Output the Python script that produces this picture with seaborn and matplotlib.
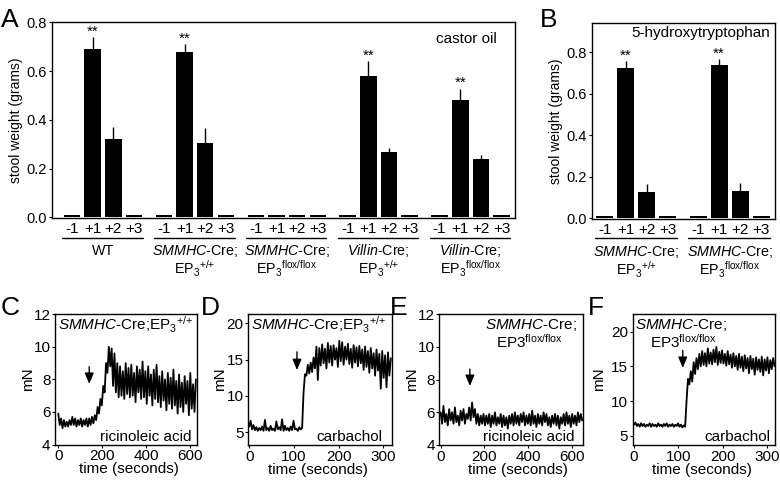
import numpy as np
import pandas as pd
import matplotlib
matplotlib.use("Agg")
import matplotlib.pyplot as plt
import seaborn as sns

# ---------------- data ----------------
days = ["-1", "+1", "+2", "+3"]

# Panel A: castor oil, stool weight (grams)
a_wt = [0.01, 0.69, 0.32, 0.01]
a_wt_err = [0, 0.05, 0.05, 0]
a_smmhc_wt = [0.01, 0.68, 0.305, 0.01]
a_smmhc_wt_err = [0, 0.03, 0.06, 0]
a_smmhc_flox = [0.009, 0.009, 0.009, 0.009]
a_smmhc_flox_err = [0, 0, 0, 0]
a_villin_wt = [0.01, 0.58, 0.268, 0.01]
a_villin_wt_err = [0, 0.06, 0.018, 0]
a_villin_flox = [0.01, 0.48, 0.238, 0.01]
a_villin_flox_err = [0, 0.048, 0.018, 0]
a_stars = [[False, True, False, False], [False, True, False, False],
           [False, False, False, False], [False, True, False, False],
           [False, True, False, False]]
a_line1 = ["WT", r"$\mathit{SMMHC}$-Cre;", r"$\mathit{SMMHC}$-Cre;",
           r"$\mathit{Villin}$-Cre;", r"$\mathit{Villin}$-Cre;"]
a_line2 = ["", r"EP$_3$$^{+/{+}}$", r"EP$_3$$^{\mathrm{flox/flox}}$",
           r"EP$_3$$^{+/{+}}$", r"EP$_3$$^{\mathrm{flox/flox}}$"]

# Panel B: 5-hydroxytryptophan
b_smmhc_wt = [0.012, 0.727, 0.128, 0.012]
b_smmhc_wt_err = [0, 0.032, 0.037, 0]
b_smmhc_flox = [0.012, 0.739, 0.131, 0.012]
b_smmhc_flox_err = [0, 0.03, 0.04, 0]
b_stars = [[False, True, False, False], [False, True, False, False]]
b_line1 = [r"$\mathit{SMMHC}$-Cre;", r"$\mathit{SMMHC}$-Cre;"]
b_line2 = [r"EP$_3$$^{+/{+}}$", r"EP$_3$$^{\mathrm{flox/flox}}$"]

# Panel C: SMMHC-Cre;EP3+/+, ricinoleic acid (mN)
c_t_end = 627
c_force = [5.9, 5.2, 5.6, 5.0, 5.5, 5.1, 5.4, 5.1, 5.5, 5.2,
           5.7, 5.2, 5.6, 5.1, 5.5, 5.2, 5.6, 5.1, 5.5, 5.2,
           5.6, 5.1, 5.6, 5.2, 5.7, 5.3, 5.8, 5.5, 6.3, 5.9,
           6.8, 6.4, 7.6, 7.2, 9.0, 8.4, 10.0, 8.8, 9.9, 7.6,
           9.6, 7.2, 9.0, 6.9, 8.8, 7.0, 8.5, 6.8, 9.0, 7.1,
           8.7, 6.9, 8.9, 7.0, 8.4, 6.6, 8.8, 7.2, 8.6, 6.8,
           9.1, 6.9, 8.5, 6.5, 8.8, 7.0, 8.3, 6.4, 8.6, 6.8,
           8.9, 6.6, 8.2, 6.3, 8.5, 6.7, 8.0, 6.1, 8.4, 6.5,
           8.1, 6.2, 8.6, 6.4, 7.9, 5.9, 8.3, 6.3, 7.8, 6.0,
           8.2, 6.5, 7.9, 5.8, 8.4, 6.2, 7.7, 6.0, 8.0]
c_arrow = (141, 8.78, 7.72)

# Panel D: SMMHC-Cre;EP3+/+, carbachol
d_t_end = 317
d_force = [5.8, 6.6, 5.4, 6.0, 5.3, 5.7, 5.2, 5.6, 5.3, 5.8,
           5.2, 6.7, 5.3, 5.6, 5.2, 5.9, 5.3, 5.5, 5.2, 6.5,
           5.4, 5.7, 5.3, 6.8, 5.2, 5.9, 5.3, 5.6, 5.2, 5.8,
           5.3, 6.6, 5.4, 5.5, 5.2, 5.7, 5.4, 5.6, 10.5, 13.0,
           12.8, 14.3, 13.1, 14.6, 13.3, 15.3, 13.8, 16.8, 12.2, 16.6,
           14.2, 17.1, 14.5, 16.5, 13.8, 17.3, 14.6, 16.9, 14.2, 17.0,
           15.0, 16.6, 14.0, 17.6, 14.8, 17.4, 14.3, 16.8, 15.0, 17.2,
           14.4, 16.5, 13.9, 17.0, 14.6, 16.7, 14.1, 16.9, 14.5, 16.4,
           13.6, 16.8, 14.0, 16.2, 13.2, 16.6, 13.8, 15.9, 12.8, 16.4,
           13.5, 15.8, 11.0, 16.2, 12.5, 15.6, 11.2, 16.0, 12.8, 15.2]
d_arrow = (107, 16.08, 13.56)

# Panel E: SMMHC-Cre;EP3flox/flox, ricinoleic acid
e_t_end = 648
e_force = [6.0, 5.3, 6.4, 5.4, 5.9, 5.2, 6.2, 5.5, 6.0, 5.3,
           6.3, 5.4, 5.8, 5.2, 6.1, 5.5, 6.2, 5.3, 5.9, 5.6,
           6.3, 5.5, 6.6, 5.7, 6.2, 5.3, 5.9, 5.2, 5.8, 5.3,
           5.9, 5.2, 5.8, 5.3, 5.9, 5.1, 5.8, 5.3, 6.0, 5.2,
           5.7, 5.3, 5.9, 5.1, 5.8, 5.2, 5.7, 5.0, 5.8, 5.3,
           5.9, 5.2, 6.0, 5.3, 5.8, 5.2, 5.9, 5.4, 6.0, 5.2,
           5.8, 5.3, 5.9, 5.2, 6.1, 5.3, 5.8, 5.1, 5.9, 5.3,
           5.8, 5.2, 6.0, 5.4, 5.9, 5.2, 5.7, 5.1, 5.8, 5.3,
           5.9, 5.2, 5.8, 5.0, 5.7, 5.3, 5.9, 5.2, 6.0, 5.3,
           5.8, 5.1, 5.9, 5.3, 5.8, 5.2, 6.0, 5.4, 5.9, 5.5]
e_arrow = (134, 8.65, 7.61)

# Panel F: SMMHC-Cre;EP3flox/flox, carbachol
f_t_end = 317
f_force = [6.6, 6.9, 6.4, 6.7, 6.3, 6.8, 6.4, 6.7, 6.3, 6.6,
           6.4, 6.8, 6.3, 6.7, 6.4, 6.6, 6.3, 6.8, 6.4, 6.6,
           6.3, 6.7, 6.4, 6.8, 6.3, 6.6, 6.4, 6.7, 6.3, 6.6,
           6.4, 6.8, 6.3, 6.6, 6.2, 6.5, 6.3, 10.0, 13.2, 12.4,
           14.3, 12.8, 15.6, 13.9, 16.2, 14.6, 16.8, 15.0, 17.2, 15.2,
           16.9, 15.0, 17.6, 15.4, 17.0, 15.3, 17.4, 15.6, 17.8, 15.2,
           17.1, 15.5, 17.3, 15.4, 16.8, 15.1, 17.2, 15.3, 16.7, 14.8,
           16.9, 15.0, 16.5, 14.5, 16.8, 14.8, 16.4, 14.3, 16.6, 14.7,
           16.2, 14.0, 16.5, 14.6, 16.1, 13.8, 16.3, 14.5, 16.0, 14.2,
           16.4, 13.7, 16.0, 14.4, 16.3, 14.0, 15.9, 14.6, 16.2, 15.0]
f_arrow = (110, 17.3, 14.77)

# ---------------- style ----------------
sns.set_theme(style="ticks")
plt.rcParams["font.family"] = ["Liberation Sans", "DejaVu Sans"]
plt.rcParams.update({
    "mathtext.fontset": "custom",
    "mathtext.rm": "Liberation Sans",
    "mathtext.it": "Liberation Sans:italic",
    "mathtext.bf": "Liberation Sans:bold",
    "axes.linewidth": 1.0,
    "axes.edgecolor": "black",
    "xtick.color": "black",
    "ytick.color": "black",
    "text.color": "black",
    "axes.labelcolor": "black",
})

W, H = 780, 482
fig = plt.figure(figsize=(W / 100, H / 100), dpi=100)


def px_axes(l, t, r, b):
    return fig.add_axes([l / W, 1 - b / H, (r - l) / W, (b - t) / H])


GROUP_STEP = 4.45
FS = 11
GFS = 10.3


def bar_panel(ax, groups, errs, stars, line1, line2, ylim, xlim, yticks,
              y_line, y_l1, y_l2):
    pos, val, err = [], [], []
    for g, (vals, es) in enumerate(zip(groups, errs)):
        for i in range(4):
            pos.append(g * GROUP_STEP + i)
            val.append(vals[i])
            err.append(es[i])
    df = pd.DataFrame({"pos": pos, "val": val})
    sns.barplot(data=df, x="pos", y="val", native_scale=True, color="black",
                saturation=1, width=0.8, errorbar=None, linewidth=0, ax=ax)
    pos = np.array(pos)
    val = np.array(val)
    err = np.array(err)
    m = err > 0
    ax.errorbar(pos[m], val[m], yerr=[np.zeros(m.sum()), err[m]], fmt="none",
                ecolor="black", elinewidth=1.0, capsize=0)
    k = 0
    for g in range(len(groups)):
        for i in range(4):
            if stars[g][i]:
                ax.text(pos[k], val[k] + err[k] + 0.006, "**", ha="center",
                        va="baseline", fontsize=FS)
            k += 1
    ax.set_xlim(*xlim)
    ax.set_ylim(*ylim)
    ax.set_xticks(pos)
    ax.set_xticklabels(days * len(groups))
    ax.set_yticks(yticks)
    ax.set_yticklabels([f"{v:.1f}" for v in yticks])
    ax.tick_params(axis="x", length=0, pad=2.5, labelsize=FS)
    ax.tick_params(axis="y", length=2.5, width=0.8, pad=1.2, labelsize=10.5)
    ax.set_xlabel("")
    ax.set_ylabel("stool weight (grams)", fontsize=10)
    tr = ax.get_xaxis_transform()
    for g in range(len(groups)):
        x0 = g * GROUP_STEP
        ax.plot([x0 - 0.47, x0 + 3.42], [y_line, y_line], transform=tr,
                clip_on=False, color="black", lw=1.0)
        cx = x0 + 1.5
        ax.text(cx, y_l1, line1[g], transform=tr, ha="center", va="baseline",
                fontsize=GFS)
        if line2[g]:
            ax.text(cx, y_l2, line2[g], transform=tr, ha="center",
                    va="baseline", fontsize=GFS)
    for s in ax.spines.values():
        s.set_visible(True)
        s.set_color("black")
        s.set_linewidth(1.0)


# Panel A
axA = px_axes(52, 22.3, 515, 218.3)
bar_panel(axA,
          [a_wt, a_smmhc_wt, a_smmhc_flox, a_villin_wt, a_villin_flox],
          [a_wt_err, a_smmhc_wt_err, a_smmhc_flox_err, a_villin_wt_err,
           a_villin_flox_err],
          a_stars, a_line1, a_line2, ylim=(-0.004, 0.8), xlim=(-0.97, 21.45),
          yticks=[0.0, 0.2, 0.4, 0.6, 0.8], y_line=-0.102, y_l1=-0.187,
          y_l2=-0.284)
axA.yaxis.set_label_coords(-0.062, 0.5)
axA.text(0.9605, 0.896, "castor oil", transform=axA.transAxes, ha="right",
         va="baseline", fontsize=FS)

# Panel B
axB = px_axes(591.7, 23.3, 775, 219.3)
bar_panel(axB, [b_smmhc_wt, b_smmhc_flox], [b_smmhc_wt_err, b_smmhc_flox_err],
          b_stars, b_line1, b_line2, ylim=(-0.004, 0.94), xlim=(-0.62, 8.11),
          yticks=[0.0, 0.2, 0.4, 0.6, 0.8], y_line=-0.097, y_l1=-0.187,
          y_l2=-0.286)
axB.yaxis.set_label_coords(-0.155, 0.5)
axB.text(0.973, 0.929, "5-hydroxytryptophan", transform=axB.transAxes,
         ha="right", va="baseline", fontsize=FS)


def trace_panel(ax, force, t_end, arrow, xlim, ylim, xticks, yticks,
                ylab_x, xlab_x):
    t = np.linspace(0, t_end, len(force))
    sns.lineplot(x=t, y=force, ax=ax, color="black", linewidth=1.3,
                 errorbar=None)
    ax.annotate("", xy=(arrow[0], arrow[2]), xytext=(arrow[0], arrow[1]),
                arrowprops=dict(arrowstyle="-|>,head_length=0.65,head_width=0.27",
                                color="black", lw=1.0, shrinkA=0, shrinkB=0,
                                mutation_scale=10))
    ax.set_xlim(*xlim)
    ax.set_ylim(*ylim)
    ax.set_xticks(xticks)
    ax.set_yticks(yticks)
    ax.tick_params(axis="both", length=2.5, width=0.8, pad=0.8, labelsize=FS)
    ax.set_xlabel("time (seconds)", fontsize=FS)
    ax.set_ylabel("mN", fontsize=FS)
    ax.yaxis.set_label_coords(ylab_x, 0.5)
    ax.xaxis.set_label_coords(xlab_x, -0.135)
    for s in ax.spines.values():
        s.set_visible(True)
        s.set_color("black")
        s.set_linewidth(1.0)


axC = px_axes(55, 314.3, 197, 444.5)
trace_panel(axC, c_force, c_t_end, c_arrow, (-15, 632), (4, 12),
            [0, 200, 400, 600], [4, 6, 8, 10, 12], -0.141, 0.52)
axC.text(0.021, 0.879, r"$\mathit{SMMHC}$-Cre;EP$_3$$^{+/{+}}$",
         transform=axC.transAxes, ha="left", va="baseline", fontsize=FS)
axC.text(0.963, 0.03, "ricinoleic acid", transform=axC.transAxes, ha="right",
         va="baseline", fontsize=FS)

axD = px_axes(248.3, 314.3, 391.7, 445)
trace_panel(axD, d_force, d_t_end, d_arrow, (-2, 319), (3.25, 21.25),
            [0, 100, 200, 300], [5, 10, 15, 20], -0.151, 0.483)
axD.text(0.019, 0.879, r"$\mathit{SMMHC}$-Cre;EP$_3$$^{+/{+}}$",
         transform=axD.transAxes, ha="left", va="baseline", fontsize=FS)
axD.text(0.932, 0.03, "carbachol", transform=axD.transAxes, ha="right",
         va="baseline", fontsize=FS)

axE = px_axes(439.3, 314.3, 583.3, 445)
trace_panel(axE, e_force, e_t_end, e_arrow, (-6, 653), (4, 12),
            [0, 200, 400, 600], [4, 6, 8, 10, 12], -0.139, 0.543)
axE.text(0.635, 0.885, r"$\mathit{SMMHC}$-Cre;", transform=axE.transAxes,
         ha="center", va="baseline", fontsize=FS)
axE.text(0.623, 0.745, r"EP3$^{\mathrm{flox/flox}}$", transform=axE.transAxes,
         ha="center", va="baseline", fontsize=FS)
axE.text(0.942, 0.03, "ricinoleic acid", transform=axE.transAxes, ha="right",
         va="baseline", fontsize=FS)

axF = px_axes(632.7, 314.3, 775, 445)
trace_panel(axF, f_force, f_t_end, f_arrow, (-3, 318), (3.67, 22.5),
            [0, 100, 200, 300], [5, 10, 15, 20], -0.188, 0.487)
axF.text(0.339, 0.885, r"$\mathit{SMMHC}$-Cre;", transform=axF.transAxes,
         ha="center", va="baseline", fontsize=FS)
axF.text(0.36, 0.745, r"EP3$^{\mathrm{flox/flox}}$", transform=axF.transAxes,
         ha="center", va="baseline", fontsize=FS)
axF.text(0.967, 0.03, "carbachol", transform=axF.transAxes, ha="right",
         va="baseline", fontsize=FS)

# panel letters
for letter, x, y in [("A", 1, 27), ("B", 540, 27), ("C", 1, 315),
                     ("D", 201, 315), ("E", 390, 315), ("F", 588, 315)]:
    fig.text(x / W, 1 - y / H, letter, fontsize=19, ha="left", va="baseline")

fig.savefig("out.png", dpi=100)
